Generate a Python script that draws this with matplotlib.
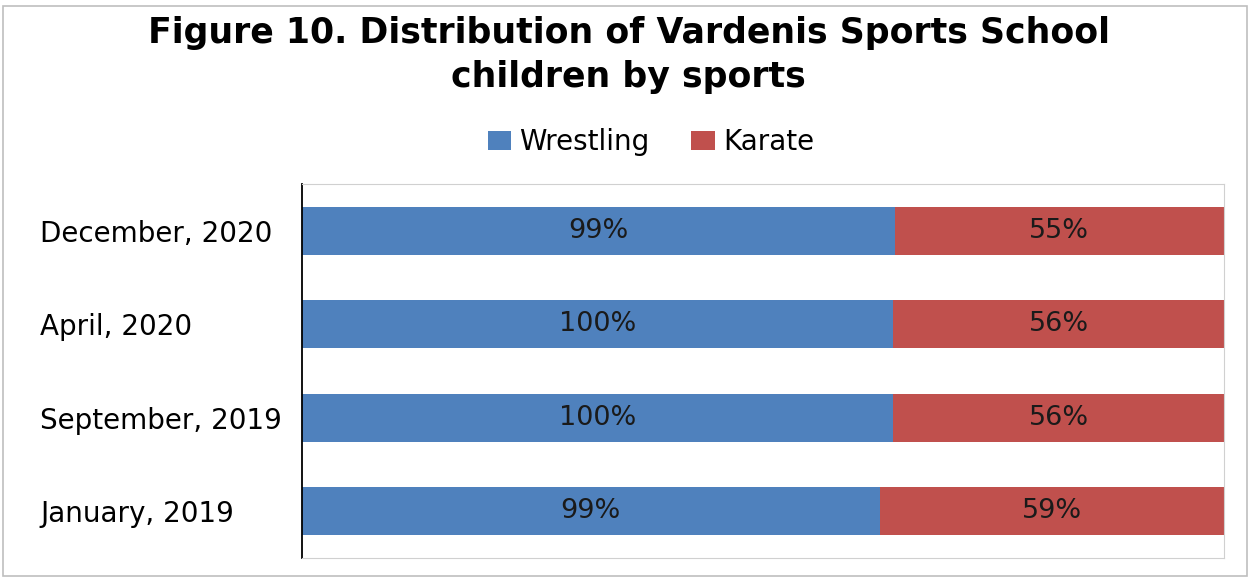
import matplotlib.pyplot as plt
from matplotlib.patches import Rectangle

CATEGORIES = ["January, 2019", "September, 2019", "April, 2020", "December, 2020"]
WRESTLING = [99, 100, 100, 99]
KARATE = [59, 56, 56, 55]

BLUE = "#4F81BD"
RED = "#C0504D"

plt.rcParams["font.family"] = ["DejaVu Sans"]

fig = plt.figure(figsize=(12.51, 5.78), dpi=100)
ax = fig.add_axes([302 / 1251, 1 - 558 / 578, (1224 - 302) / 1251, (558 - 184) / 578])

# outer chart border
fig.patches.append(Rectangle((3 / 1251, 2 / 578), 1244 / 1251, 570 / 578,
                             transform=fig.transFigure, fill=False,
                             edgecolor="#BFBFBF", linewidth=1.2))

totals = [w + k for w, k in zip(WRESTLING, KARATE)]
w_share = [w / t for w, t in zip(WRESTLING, totals)]
k_share = [k / t for k, t in zip(KARATE, totals)]
y = range(len(CATEGORIES))

bars_w = ax.barh(y, w_share, height=0.51, color=BLUE, label="Wrestling")
bars_k = ax.barh(y, k_share, left=w_share, height=0.51, color=RED, label="Karate")

for bars, vals in ((bars_w, WRESTLING), (bars_k, KARATE)):
    for bar, v in zip(bars, vals):
        ax.text(bar.get_x() + bar.get_width() / 2, bar.get_y() + bar.get_height() / 2,
                f"{v}%", ha="center", va="center", fontsize=19.5, color="#1a1a1a")

ax.set_xlim(0, 1)
ax.set_ylim(-0.5, len(CATEGORIES) - 0.5)
ax.set_yticks(list(y))
ax.set_yticklabels(CATEGORIES, fontsize=20)
ax.tick_params(axis="y", length=0)
ax.set_xticks([])
for side in ("top", "right", "bottom"):
    ax.spines[side].set_color("#D0D0D0")
ax.spines["left"].set_color("black")
ax.spines["left"].set_linewidth(1.3)

for lab in ax.get_yticklabels():
    lab.set_horizontalalignment("left")
    lab.set_x(-(302 - 45) / 922)

fig.text(0.5 + 3 / 1251, 1 - 33 / 578, "Figure 10. Distribution of Vardenis Sports School",
         ha="center", va="center", fontsize=25, fontweight="bold")
fig.text(0.5 + 3 / 1251, 1 - 77 / 578, "children by sports",
         ha="center", va="center", fontsize=25, fontweight="bold")

fig.legend(handles=[bars_w, bars_k], labels=["Wrestling", "Karate"],
           loc="center", bbox_to_anchor=(651 / 1251, 1 - 142 / 578), ncol=2,
           frameon=False, fontsize=20, handlelength=0.85, handleheight=0.7,
           handletextpad=0.3, columnspacing=1.5)

fig.savefig("out.png", dpi=100)
